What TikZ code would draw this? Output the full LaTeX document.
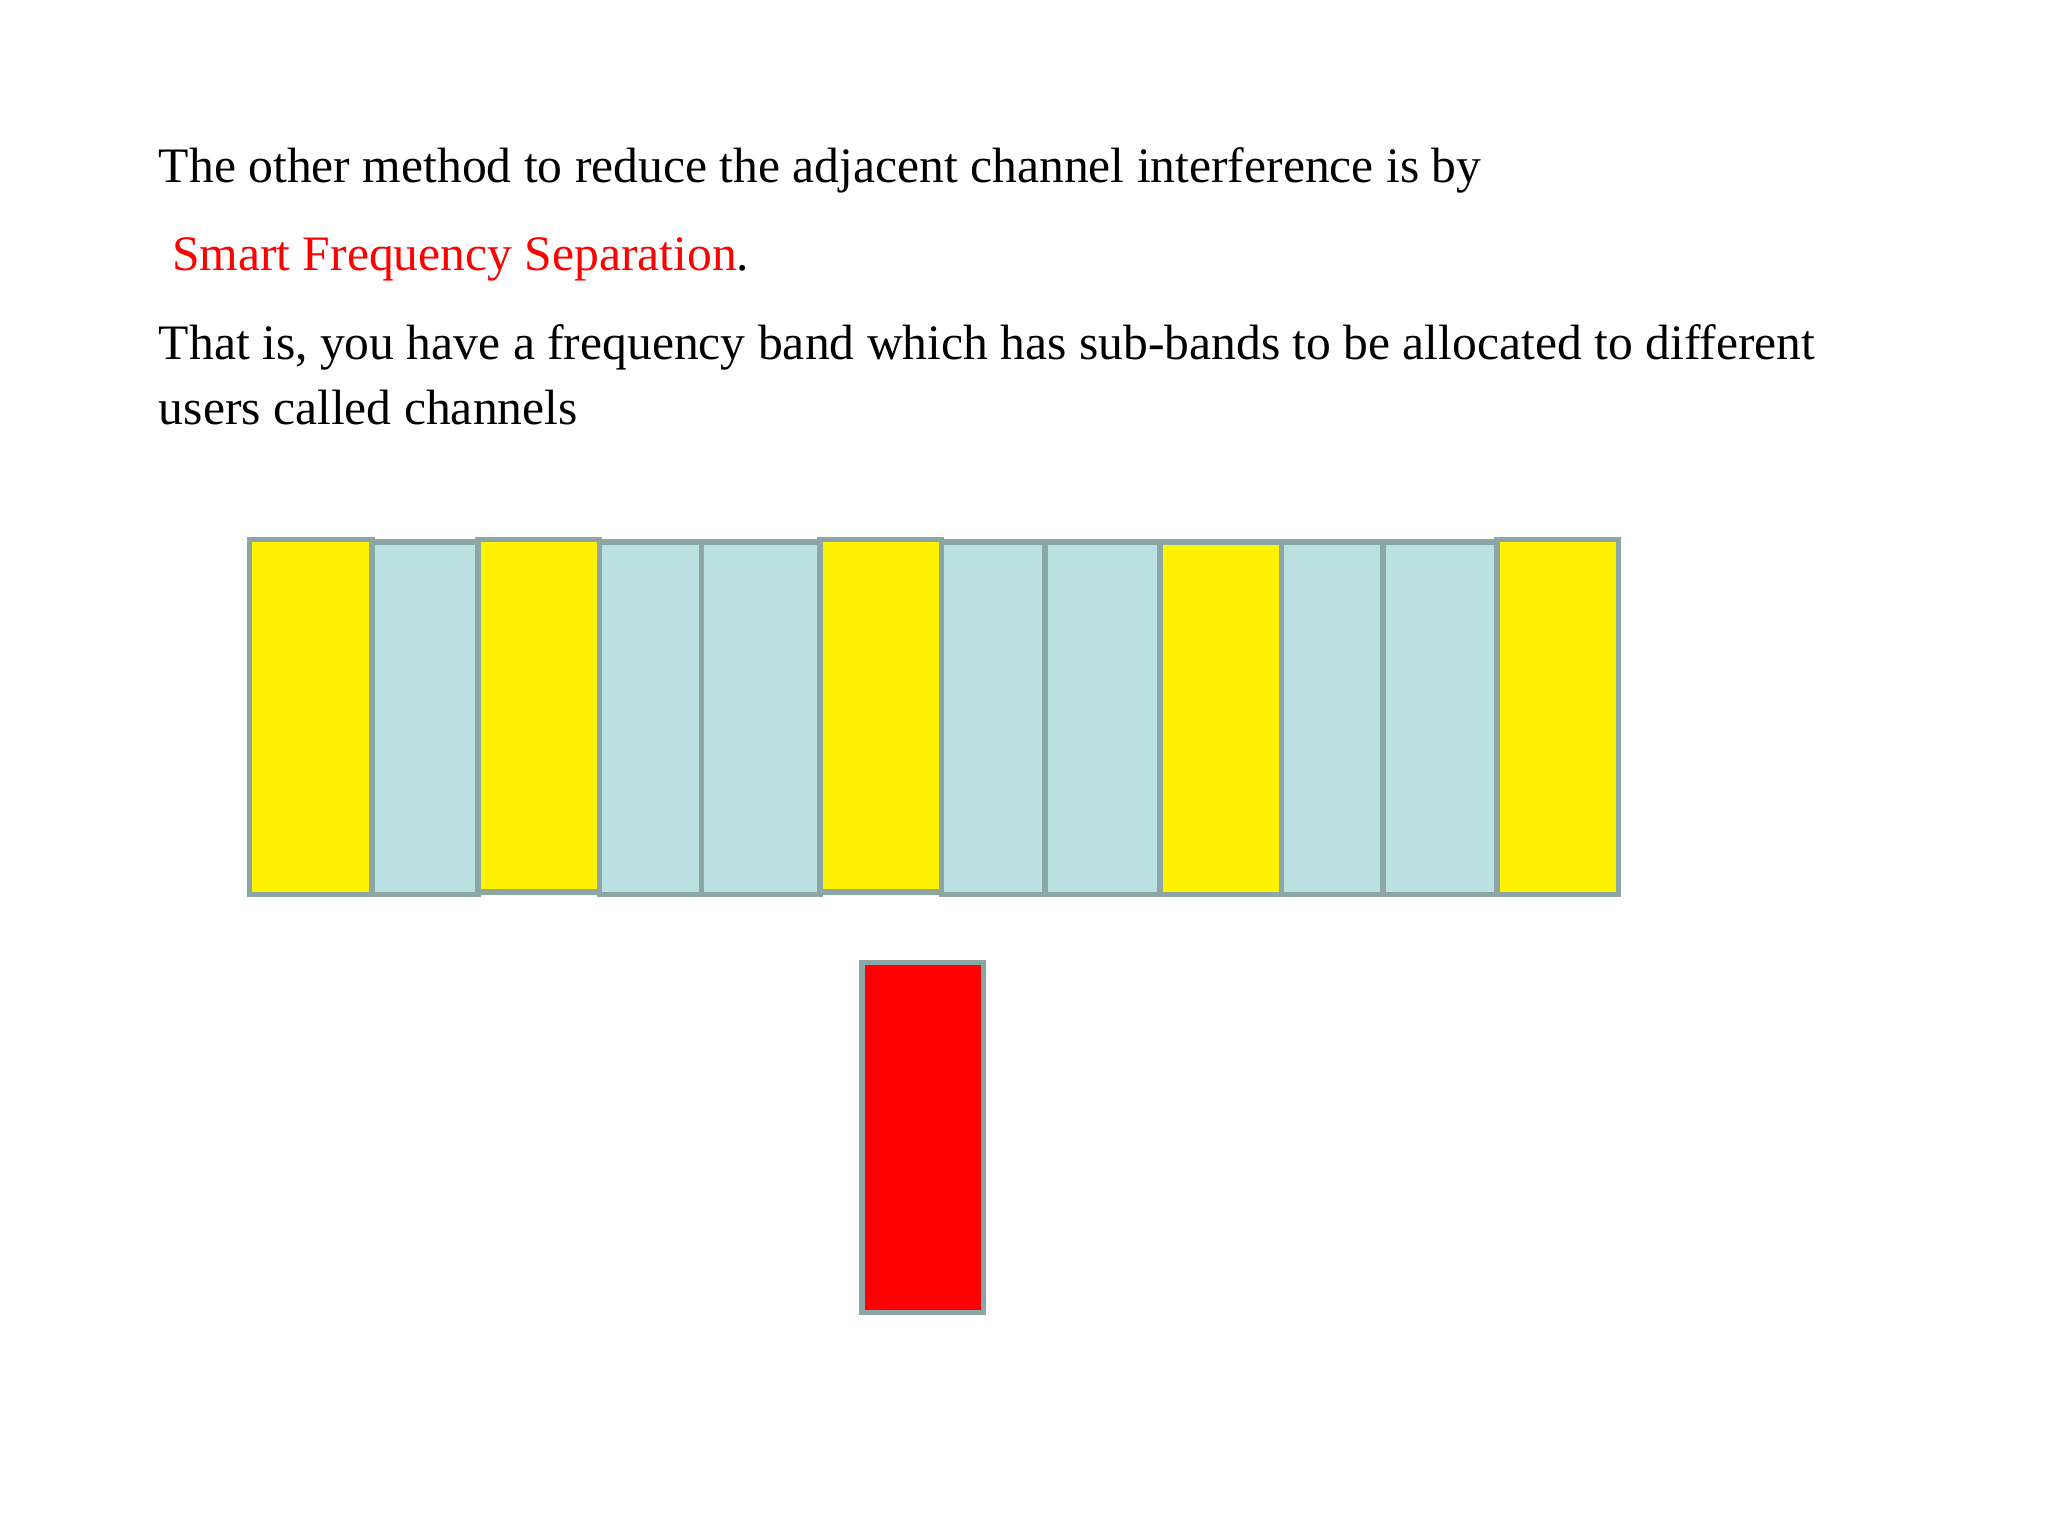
\documentclass[tikz,border=0pt]{standalone}
\usepackage{fontspec}
\setmainfont{Liberation Serif}
\begin{document}
\begin{tikzpicture}[x=0.01cm,y=-0.01cm,
  txt/.style={anchor=base west,inner sep=0pt,font=\fontsize{10.8}{13}\selectfont},
  band/.style={draw=gray!55!cyan!40!black!60,line width=1.2pt},
  yel/.style={band,fill=yellow},
  blu/.style={band,fill=cyan!30!gray!30!white}]
\useasboundingbox (0,0) rectangle (1568,1176);
\node[txt] (l1) at (121,140) {The other method to reduce the adjacent channel interference is by};
\node[txt] (l2) at (131,207) {\color{red}Smart Frequency Separation\color{black}.};
\node[txt] (l3) at (121,275) {That is, you have a frequency band which has sub-bands to be allocated to different};
\node[txt] (l4) at (121,325) {users called channels};
\tikzset{blu/.style={band,fill={rgb,255:red,185;green,225;blue,226}},
  band/.style={draw={rgb,255:red,140;green,165;blue,165},line width=1.2pt}}
\draw[yel] (191,413) rectangle (285,685);
\draw[blu] (285,415) rectangle (366,685);
\draw[yel] (366,413) rectangle (459,683);
\draw[blu] (459,415) rectangle (537,685);
\draw[blu] (537,415) rectangle (628,685);
\draw[yel] (628,413) rectangle (721,683);
\draw[blu] (721,415) rectangle (800,685);
\draw[blu] (800,415) rectangle (888,685);
\draw[yel] (888,415) rectangle (981,685);
\draw[blu] (981,415) rectangle (1059,685);
\draw[blu] (1059,415) rectangle (1146,685);
\draw[yel] (1146,413) rectangle (1239,685);
\draw[band,fill=red] (660,737) rectangle (753,1005);
\end{tikzpicture}
\end{document}
